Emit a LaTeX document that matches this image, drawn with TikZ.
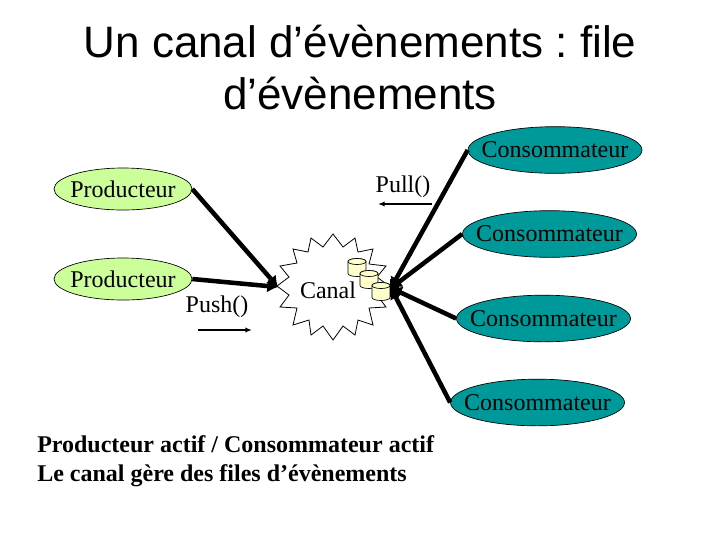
\documentclass[tikz,border=0pt]{standalone}
\usepackage{fontspec}
\setmainfont{Liberation Serif}
\newfontfamily\titlefont{Liberation Sans}
\frenchspacing
\usetikzlibrary{shapes.geometric,arrows.meta}
\definecolor{prodfill}{HTML}{CCFF99}
\definecolor{consfill}{HTML}{009999}
\definecolor{cylfill}{HTML}{FFFFCC}
\tikzset{
  x=0.75pt,y=-0.75pt,
  actor/.style={ellipse,draw=black,line width=0.5pt,inner sep=0pt,minimum width=130.5pt,minimum height=35pt,font=\fontsize{18}{20}\selectfont},
  prod/.style={actor,fill=prodfill,minimum width=103.5pt,minimum height=31.5pt},
  cons/.style={actor,fill=consfill},
  link/.style={line width=3.4pt,draw=black,{Latex[length=8pt,width=10pt]}-},
  label/.style={inner sep=0pt,font=\fontsize{18}{20}\selectfont},
  small/.style={line width=1pt,-{Latex[length=5pt,width=4pt]}},
  can/.style={draw=black,line width=0.5pt,fill=cylfill},
  titletext/.style={inner sep=0pt,font=\titlefont\fontsize{33}{38}\selectfont},
  note/.style={inner sep=0pt,anchor=base west,font=\bfseries\fontsize{18}{20}\selectfont}
}
\newcommand{\zerow}[1]{\makebox[0pt]{#1}}
\newcommand{\cankan}[2]{%
  \draw[can] (#1-9,#2-6) -- (#1-9,#2+6) arc[x radius=6.75pt,y radius=2.25pt,start angle=180,end angle=360] -- (#1+9,#2-6) arc[x radius=6.75pt,y radius=2.25pt,start angle=0,end angle=180] -- cycle;
  \draw[can] (#1,#2-6) ellipse[x radius=6.75pt,y radius=2.25pt];
}
\begin{document}
\begin{tikzpicture}
\useasboundingbox (0,0) rectangle (720,540);
\node[titletext] (t1) at (360,42) {Un canal d’évènements : file};
\node[titletext] (t2) at (360,94) {d’évènements};
\draw[line width=0.6pt,fill=white] (277,286)--(289,277)--(280,266)--(297,263)--(293,249)--(308,252)--(311,238)--(323,247)--(333,234)--(343,247)--(355,238)--(358,252)--(373,249)--(369,264)--(386,266)--(377,277)--(389,286)--(377,295)--(386,307)--(369,308)--(373,325)--(358,320)--(355,335)--(343,326)--(333,340)--(323,326)--(311,335)--(309,320)--(293,325)--(297,308)--(280,307)--(289,295)--cycle;
\node[prod] (p1) at (123,189) {\zerow{Producteur}};
\node[prod] (p2) at (123,279) {\zerow{Producteur}};
\node[cons] (c1) at (555,150) {\zerow{Consommateur}};
\node[cons] (c2) at (549.5,234) {\zerow{Consommateur}};
\node[cons] (c3) at (543.5,318.5) {\zerow{Consommateur}};
\node[cons] (c4) at (537.5,402.5) {\zerow{Consommateur}};
\coordinate (hub) at (391,288);
\coordinate (sink) at (278,287);
\node[label] (canal) at (328,290) {Canal};
\cankan{357}{267.5}
\cankan{369}{279.5}
\cankan{381}{291.5}
\draw[link] (sink) -- (p1.east);
\draw[link] (sink) -- (p2.east);
\draw[link] (hub) -- (c1.west);
\draw[link] (hub) -- (c2.west);
\draw[link] (hub) -- (c3.west);
\draw[link] (hub) -- (c4.west);
\fill (390,279) rectangle (399,297);
\node[label] (pull) at (403,187) {Pull()};
\coordinate (pa) at (432,204); \coordinate (pb) at (378,204);
\draw[small] (pa) -- (pb);
\node[label] (push) at (217,307) {Push()};
\coordinate (qa) at (198,330); \coordinate (qb) at (252,330);
\draw[small] (qa) -- (qb);
\node[note] (n1) at (37,452) {Producteur actif / Consommateur actif};
\node[note] (n2) at (37,481) {Le canal gère des files d’évènements};
\end{tikzpicture}
\end{document}
